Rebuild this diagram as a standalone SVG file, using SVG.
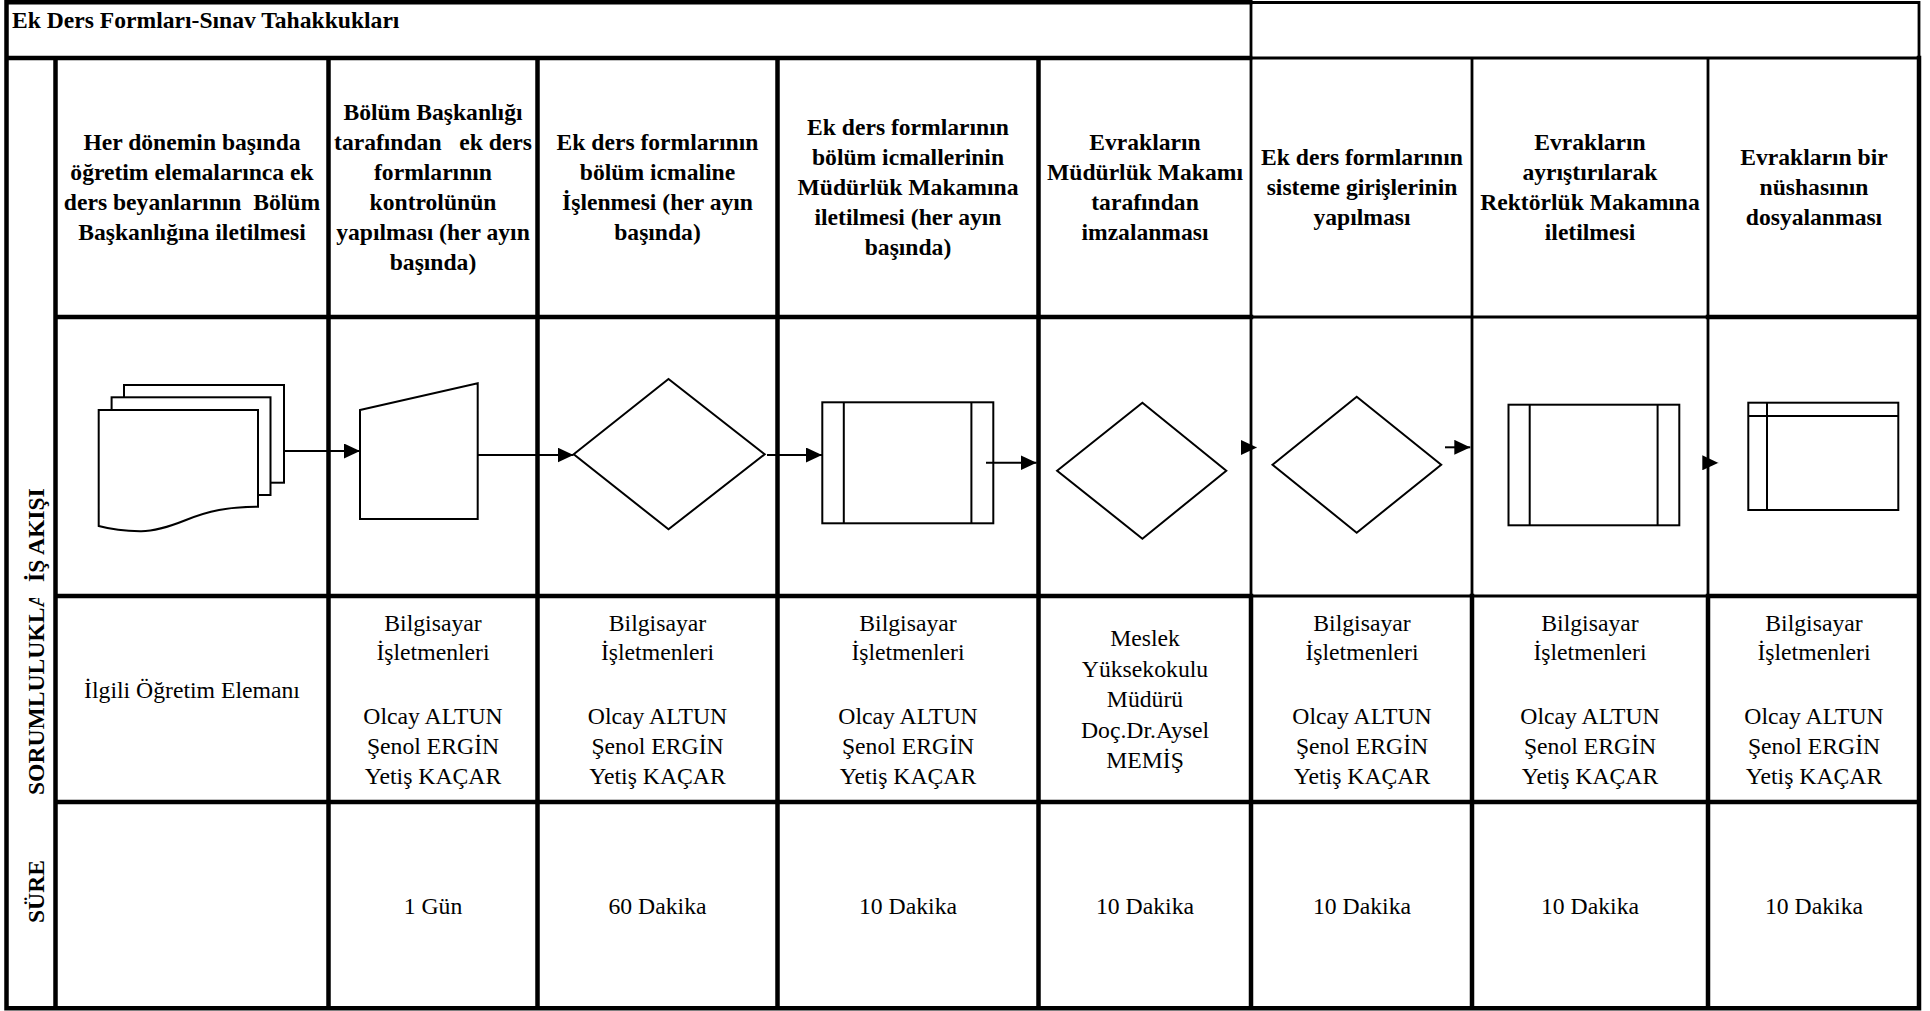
<svg xmlns="http://www.w3.org/2000/svg" width="1930" height="1011" viewBox="0 0 1930 1011">
<style>
.hd{font-family:"Liberation Serif","Times New Roman",serif;font-weight:bold;font-size:23.6px;text-anchor:middle;fill:#000}
.bd{font-family:"Liberation Serif","Times New Roman",serif;font-size:23.7px;text-anchor:middle;fill:#000}
.lb{font-family:"Liberation Serif","Times New Roman",serif;font-weight:bold;font-size:23.6px;fill:#000}
.t{stroke:#000;stroke-width:4.5;stroke-linecap:square;fill:none}
.m{stroke:#000;stroke-width:2.8;fill:none}
.sh{fill:#fff;stroke:#000;stroke-width:2}
.cn{stroke:#000;stroke-width:2;fill:none;marker-end:url(#ah)}
</style>
<defs>
<marker id="ah" viewBox="0 0 16 15" refX="16" refY="7.5" markerWidth="16" markerHeight="15" markerUnits="userSpaceOnUse" orient="auto">
<path d="M0,0 L16,7.5 L0,15 Z" fill="#000"/>
</marker>
<clipPath id="lblclip"><rect x="8" y="598" width="46" height="408"/></clipPath>
</defs>
<rect width="1930" height="1011" fill="#fff"/>

<g id="grid">
<path class="t" d="M6.5,2.2 H1250 M6.5,2.2 V1008.3 M6.5,58 H1250 M55.5,58 V1008.3 M55.5,317 H1251 M1708,317 H1919 M55.5,596 H1251 M1708,596 H1919 M55.5,802 H1919 M6.5,1008.3 H1919 M328.5,58 V1008.3 M537.5,58 V1008.3 M777.5,58 V1008.3 M1038.5,58 V1008.3 M1251,596 V1008.3 M1472,596 V1008.3 M1708,596 V1008.3 M1919,58 V1008.3"/>
<path class="m" d="M1251,0 V596 M1472,58 V596 M1708,58 V596 M1251,2.5 H1919 V58 M1251,58 H1919 M1251,317 H1708 M1251,596 H1708"/>
</g>

<g id="title">
<text class="lb" x="12" y="27.5">Ek Ders Formları-Sınav Tahakkukları</text>
</g>

<g id="row-labels">
<text class="lb" transform="translate(43.5,582) rotate(-90)">İŞ AKIŞI</text>
<g clip-path="url(#lblclip)"><text class="lb" transform="translate(43.5,795) rotate(-90)">SORUMLULUKLA</text></g>
<text class="lb" transform="translate(43.5,923) rotate(-90)">SÜRE</text>
</g>

<g id="step1">
<text class="hd" x="192" y="150">Her dönemin başında</text>
<text class="hd" x="192" y="180">öğretim elemalarınca ek</text>
<text class="hd" x="192" y="210" xml:space="preserve">ders beyanlarının  Bölüm</text>
<text class="hd" x="192" y="240">Başkanlığına iletilmesi</text>
<rect class="sh" x="124" y="385" width="160" height="97.7"/>
<rect class="sh" x="111.6" y="397.3" width="158.9" height="97.7"/>
<path class="sh" d="M98.7,410 H258 V506.7 C228,506.7 208,511 186,520 C166,528 152,531.5 140,531.2 C122,531 108,528.5 98.7,526 Z"/>
<text class="bd" x="192" y="698">İlgili Öğretim Elemanı</text>
</g>

<g id="step2">
<text class="hd" x="433" y="120">Bölüm Başkanlığı</text>
<text class="hd" x="433" y="150" xml:space="preserve">tarafından   ek ders</text>
<text class="hd" x="433" y="180">formlarının</text>
<text class="hd" x="433" y="210">kontrolünün</text>
<text class="hd" x="433" y="240">yapılması (her ayın</text>
<text class="hd" x="433" y="270">başında)</text>
<polygon class="sh" points="360,410 477.7,383.3 477.7,519 360,519"/>
<text class="bd" x="433" y="631">Bilgisayar</text>
<text class="bd" x="433" y="660">İşletmenleri</text>
<text class="bd" x="433" y="724">Olcay ALTUN</text>
<text class="bd" x="433" y="754">Şenol ERGİN</text>
<text class="bd" x="433" y="784">Yetiş KAÇAR</text>
<text class="bd" x="433" y="914">1 Gün</text>
</g>

<g id="step3">
<text class="hd" x="657.5" y="150">Ek ders formlarının</text>
<text class="hd" x="657.5" y="180">bölüm icmaline</text>
<text class="hd" x="657.5" y="210">İşlenmesi (her ayın</text>
<text class="hd" x="657.5" y="240">başında)</text>
<polygon class="sh" points="573.7,454.3 668.5,379 764.7,454.3 668.5,529.3"/>
<text class="bd" x="657.5" y="631">Bilgisayar</text>
<text class="bd" x="657.5" y="660">İşletmenleri</text>
<text class="bd" x="657.5" y="724">Olcay ALTUN</text>
<text class="bd" x="657.5" y="754">Şenol ERGİN</text>
<text class="bd" x="657.5" y="784">Yetiş KAÇAR</text>
<text class="bd" x="657.5" y="914">60 Dakika</text>
</g>

<g id="step4">
<text class="hd" x="908" y="135">Ek ders formlarının</text>
<text class="hd" x="908" y="165">bölüm icmallerinin</text>
<text class="hd" x="908" y="195">Müdürlük Makamına</text>
<text class="hd" x="908" y="225">iletilmesi (her ayın</text>
<text class="hd" x="908" y="255">başında)</text>
<rect class="sh" x="822.3" y="402.3" width="171" height="121"/>
<path class="sh" d="M843.8,402.3 V523.3 M971.4,402.3 V523.3"/>
<text class="bd" x="908" y="631">Bilgisayar</text>
<text class="bd" x="908" y="660">İşletmenleri</text>
<text class="bd" x="908" y="724">Olcay ALTUN</text>
<text class="bd" x="908" y="754">Şenol ERGİN</text>
<text class="bd" x="908" y="784">Yetiş KAÇAR</text>
<text class="bd" x="908" y="914">10 Dakika</text>
</g>

<g id="step5">
<text class="hd" x="1145" y="150">Evrakların</text>
<text class="hd" x="1145" y="180">Müdürlük Makamı</text>
<text class="hd" x="1145" y="210">tarafından</text>
<text class="hd" x="1145" y="240">imzalanması</text>
<polygon class="sh" points="1057.1,470.7 1142.4,402.7 1226.3,470.7 1142.4,538.7"/>
<text class="bd" x="1145" y="646">Meslek</text>
<text class="bd" x="1145" y="676.5">Yüksekokulu</text>
<text class="bd" x="1145" y="707">Müdürü</text>
<text class="bd" x="1145" y="737.5">Doç.Dr.Aysel</text>
<text class="bd" x="1145" y="768">MEMİŞ</text>
<text class="bd" x="1145" y="914">10 Dakika</text>
</g>

<g id="step6">
<text class="hd" x="1362" y="165">Ek ders formlarının</text>
<text class="hd" x="1362" y="195">sisteme girişlerinin</text>
<text class="hd" x="1362" y="225">yapılması</text>
<polygon class="sh" points="1272.5,464.7 1356.7,396.7 1441.2,464.7 1356.7,532.7"/>
<text class="bd" x="1362" y="631">Bilgisayar</text>
<text class="bd" x="1362" y="660">İşletmenleri</text>
<text class="bd" x="1362" y="724">Olcay ALTUN</text>
<text class="bd" x="1362" y="754">Şenol ERGİN</text>
<text class="bd" x="1362" y="784">Yetiş KAÇAR</text>
<text class="bd" x="1362" y="914">10 Dakika</text>
</g>

<g id="step7">
<text class="hd" x="1590" y="150">Evrakların</text>
<text class="hd" x="1590" y="180">ayrıştırılarak</text>
<text class="hd" x="1590" y="210">Rektörlük Makamına</text>
<text class="hd" x="1590" y="240">iletilmesi</text>
<rect class="sh" x="1508.5" y="404.7" width="170.8" height="120.6"/>
<path class="sh" d="M1529.7,404.7 V525.3 M1657.6,404.7 V525.3"/>
<text class="bd" x="1590" y="631">Bilgisayar</text>
<text class="bd" x="1590" y="660">İşletmenleri</text>
<text class="bd" x="1590" y="724">Olcay ALTUN</text>
<text class="bd" x="1590" y="754">Şenol ERGİN</text>
<text class="bd" x="1590" y="784">Yetiş KAÇAR</text>
<text class="bd" x="1590" y="914">10 Dakika</text>
</g>

<g id="step8">
<text class="hd" x="1814" y="165">Evrakların bir</text>
<text class="hd" x="1814" y="195">nüshasının</text>
<text class="hd" x="1814" y="225">dosyalanması</text>
<rect class="sh" x="1748.3" y="402.7" width="150" height="107.3"/>
<path class="sh" d="M1767,402.7 V510 M1748.3,416 H1898.3"/>
<text class="bd" x="1814" y="631">Bilgisayar</text>
<text class="bd" x="1814" y="660">İşletmenleri</text>
<text class="bd" x="1814" y="724">Olcay ALTUN</text>
<text class="bd" x="1814" y="754">Şenol ERGİN</text>
<text class="bd" x="1814" y="784">Yetiş KAÇAR</text>
<text class="bd" x="1814" y="914">10 Dakika</text>
</g>

<g id="connectors">
<path class="cn" d="M284,451 H360"/>
<path class="cn" d="M477.7,455 H573.5"/>
<path class="cn" d="M767,455 H822"/>
<path class="cn" d="M986,462.7 H1036.6"/>
<path class="cn" d="M1256.9,447.5 H1257"/>
<path class="cn" d="M1445,447.3 H1470.3"/>
<path class="cn" d="M1718.2,462.8 H1718.3"/>
</g>
</svg>
